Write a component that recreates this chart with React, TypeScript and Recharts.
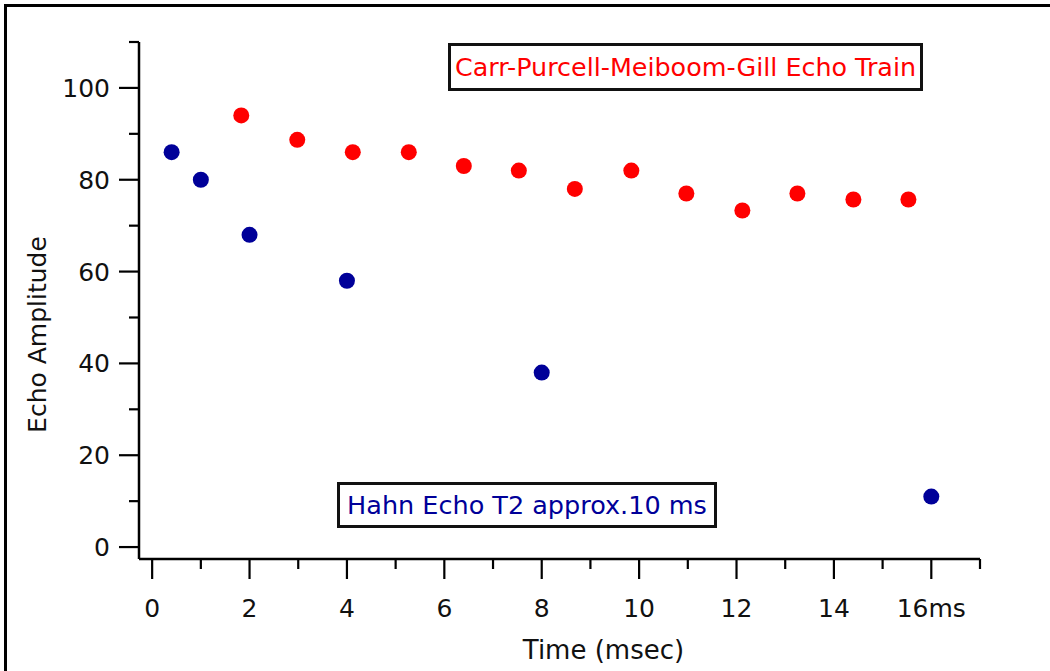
import { ScatterChart, Scatter, XAxis, YAxis } from 'recharts';

// Hahn echo: single echo amplitude vs. echo time
const hahnTime = [0.4, 1, 2, 4, 8, 16];
const hahnAmp = [86, 80, 68, 58, 38, 11];

// CPMG echo train
const cpmgTime = [1.83, 2.98, 4.12, 5.27, 6.4, 7.53, 8.68, 9.84, 10.97, 12.12, 13.25, 14.4, 15.53];
const cpmgAmp = [94, 88.7, 86, 86, 83, 82, 78, 82, 77, 73.3, 77, 75.7, 75.7];

const xTicks = [0, 1, 2, 3, 4, 5, 6, 7, 8, 9, 10, 11, 12, 13, 14, 15, 16, 17];
const yTicks = [0, 10, 20, 30, 40, 50, 60, 70, 80, 90, 100, 110];

const hahnData = hahnTime.map((t, i) => ({ t, a: hahnAmp[i] }));
const cpmgData = cpmgTime.map((t, i) => ({ t, a: cpmgAmp[i] }));

const FONT = '"DejaVu Sans", Verdana, sans-serif';
const BLUE = '#000099';
const RED = '#ff0000';

const xLabel = (v: number) => (v === 16 ? '16ms' : String(v));

function XTick(props: any) {
  const { x, y, payload } = props;
  const major = payload.value % 2 === 0;
  return (
    <g>
      <line x1={x} x2={x} y1={y} y2={y + (major ? 20 : 10)} stroke="#000" strokeWidth={2.2} />
      {major && (
        <text x={x} y={y + 58} textAnchor="middle" fontSize={25} fontFamily={FONT} fill="#111">
          {xLabel(payload.value)}
        </text>
      )}
    </g>
  );
}

function YTick(props: any) {
  const { x, y, payload } = props;
  const major = payload.value % 20 === 0;
  return (
    <g>
      <line x1={x - (major ? 20 : 10)} x2={x} y1={y} y2={y} stroke="#000" strokeWidth={2.2} />
      {major && (
        <text x={x - 29} y={y + 9} textAnchor="end" fontSize={25} fontFamily={FONT} fill="#111">
          {payload.value}
        </text>
      )}
    </g>
  );
}

const dot = (color: string) => (p: any) => <circle cx={p.cx} cy={p.cy} r={8} fill={color} />;

export default function App() {
  return (
    <div style={{ position: 'absolute', left: 0, top: 0, width: 1050, height: 671, overflow: 'hidden', background: '#fff' }}>
      <div
        style={{
          position: 'absolute',
          left: 4,
          top: 4,
          width: 1100,
          height: 700,
          borderLeft: '3px solid #000',
          borderTop: '3px solid #000',
        }}
      />
      <ScatterChart width={1050} height={671} margin={{ top: 42, right: 70, bottom: 12, left: 19 }} style={{ position: 'absolute', left: 0, top: 0 }}>
        <XAxis
          type="number"
          dataKey="t"
          domain={[-0.27, 17]}
          ticks={xTicks}
          interval={0}
          height={100}
          tickSize={0}
          tickMargin={0}
          tick={<XTick />}
          axisLine={{ stroke: '#000', strokeWidth: 2.5 }}
          allowDataOverflow
          label={(p: any) => {
            const vb = p.viewBox;
            return (
              <text x={vb.x + vb.width / 2 + 44} y={vb.y + 100} textAnchor="middle" fontSize={26} fontFamily={FONT} fill="#111">
                Time (msec)
              </text>
            );
          }}
        />
        <YAxis
          type="number"
          dataKey="a"
          domain={[-2.6, 110]}
          ticks={yTicks}
          interval={0}
          width={120}
          tickSize={0}
          tickMargin={0}
          tick={<YTick />}
          axisLine={{ stroke: '#000', strokeWidth: 2.5 }}
          allowDataOverflow
          label={(p: any) => {
            const vb = p.viewBox;
            const cx = 37;
            const cy = vb.y + vb.height / 2 + 34;
            return (
              <text x={cx} y={cy} transform={`rotate(-90 ${cx} ${cy})`} textAnchor="middle" dominantBaseline="central" fontSize={25} fontFamily={FONT} fill="#111">
                Echo Amplitude
              </text>
            );
          }}
        />
        <Scatter data={hahnData} fill={BLUE} shape={dot(BLUE)} isAnimationActive={false} />
        <Scatter data={cpmgData} fill={RED} shape={dot(RED)} isAnimationActive={false} />
      </ScatterChart>
      <div
        style={{
          position: 'absolute',
          left: 448,
          top: 43,
          width: 469,
          height: 42,
          border: '3px solid #111',
          color: RED,
          fontFamily: FONT,
          fontSize: 25.4,
          lineHeight: '42px',
          textAlign: 'center',
          whiteSpace: 'nowrap',
        }}
      >
        Carr-Purcell-Meiboom-Gill Echo Train
      </div>
      <div
        style={{
          position: 'absolute',
          left: 337,
          top: 482,
          width: 374,
          height: 40,
          border: '3px solid #111',
          color: BLUE,
          fontFamily: FONT,
          fontSize: 25.5,
          lineHeight: '40px',
          textAlign: 'center',
          whiteSpace: 'nowrap',
        }}
      >
        Hahn Echo T2 approx.10 ms
      </div>
    </div>
  );
}
